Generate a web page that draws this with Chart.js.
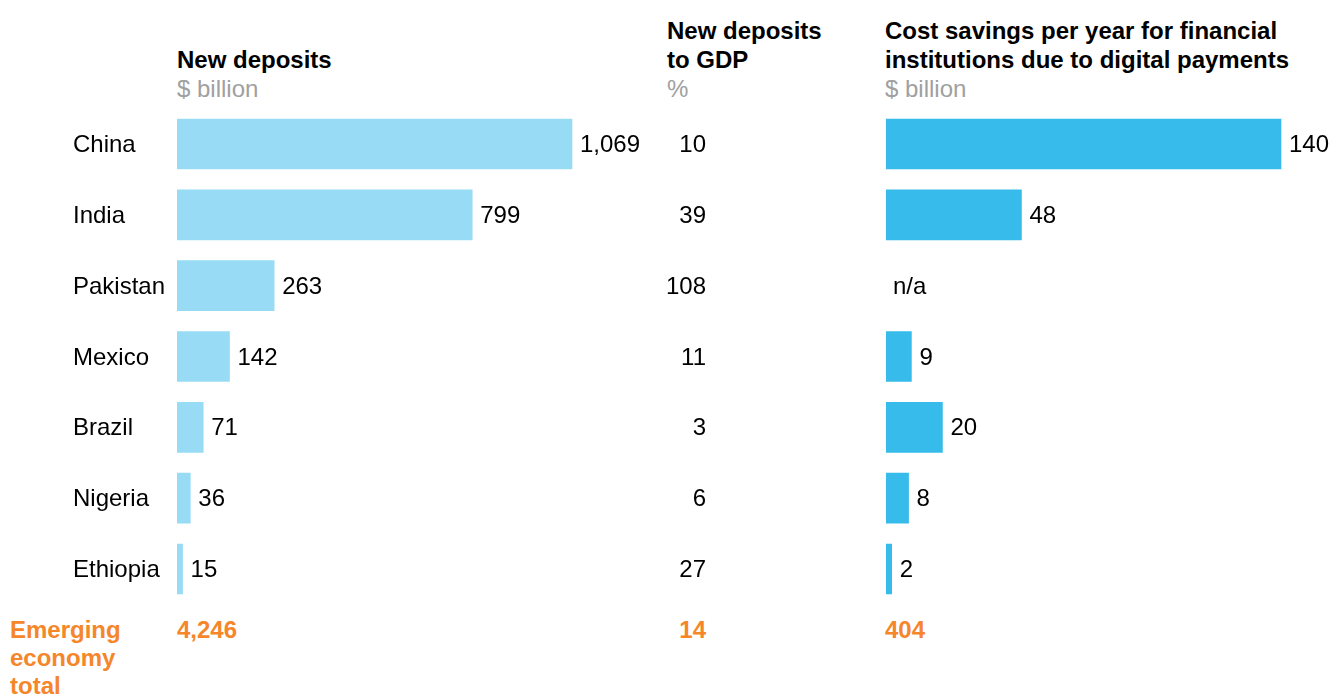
<!DOCTYPE html>
<html>
<head>
<meta charset="utf-8">
<script src="https://cdn.jsdelivr.net/npm/chart.js@4/dist/chart.umd.min.js"></script>
<style>
  html, body { margin: 0; padding: 0; background: #fff; }
  body { width: 1331px; height: 695px; position: relative; overflow: hidden;
         font-family: 'Liberation Sans', Arial, sans-serif; }
  .t { position: absolute; font-size: 24px; line-height: 29px; white-space: nowrap; color: #000; }
  .b { font-weight: bold; }
  .g { color: #a0a0a0; }
  .o { color: #f5862a; font-weight: bold; line-height: 28px; }
  #wrapL { position: absolute; left: 0; top: 0; width: 720px; height: 695px; }
  #wrapR { position: absolute; left: 860px; top: 0; width: 471px; height: 695px; }
</style>
</head>
<body>
<div class="t" style="left:177px; top:44.5px;"><span class="b">New deposits</span><br><span class="g">$ billion</span></div>
<div class="t" style="left:667px; top:15.5px;"><span class="b">New deposits<br>to GDP</span><br><span class="g">%</span></div>
<div class="t" style="left:885px; top:15.5px;"><span class="b">Cost savings per year for financial<br>institutions due to digital payments</span><br><span class="g">$ billion</span></div>

<div class="t o" style="left:10px; top:616px;">Emerging<br>economy<br>total</div>
<div class="t o" style="left:177px; top:616px;" id="totDep"></div>
<div class="t o" style="left:606px; top:616px; width:100px; text-align:right;" id="totGdp"></div>
<div class="t o" style="left:885px; top:616px;" id="totSav"></div>

<div id="wrapL"><canvas id="chartL"></canvas></div>
<div id="wrapR"><canvas id="chartR"></canvas></div>

<script>
const countries = ['China', 'India', 'Pakistan', 'Mexico', 'Brazil', 'Nigeria', 'Ethiopia'];
const newDeposits = [1069, 799, 263, 142, 71, 36, 15];
const depositsToGdp = [10, 39, 108, 11, 3, 6, 27];
const costSavings = [140, 48, null, 9, 20, 8, 2];
const totals = { deposits: '4,246', gdp: '14', savings: '404' };

document.getElementById('totDep').textContent = totals.deposits;
document.getElementById('totGdp').textContent = totals.gdp;
document.getElementById('totSav').textContent = totals.savings;

const lightBlue = '#98dbf5';
const blue = '#36bbea';
const font = "'Liberation Sans', Arial, sans-serif";

// row band: centres from 144 to 569
const rowTop = 108.6;
const rowH = 70.83 * 7;
const textDy = 1.5;

// value labels next to each bar
const valueLabels = {
  id: 'valueLabels',
  afterDatasetsDraw(chart, args, opts) {
    const ctx = chart.ctx;
    const meta = chart.getDatasetMeta(0);
    const data = chart.data.datasets[0].data;
    ctx.save();
    ctx.font = '24px ' + font;
    ctx.fillStyle = '#000';
    ctx.textBaseline = 'middle';
    ctx.textAlign = 'left';
    meta.data.forEach((bar, i) => {
      const y = chart.scales.y.getPixelForValue(i) + textDy;
      if (data[i] === null) {
        ctx.fillText('n/a', chart.chartArea.left + 7, y);
      } else {
        ctx.fillText(data[i].toLocaleString('en-US'), bar.x + 8, y);
      }
    });
    if (opts.rowLabels) {
      countries.forEach((c, i) => {
        ctx.fillText(c, 73, chart.scales.y.getPixelForValue(i) + textDy);
      });
      ctx.textAlign = 'right';
      depositsToGdp.forEach((v, i) => {
        ctx.fillText(String(v), 706, chart.scales.y.getPixelForValue(i) + textDy);
      });
    }
    ctx.restore();
  }
};

function makeChart(id, values, color, padLeft, areaW, fullVal, rowLabels) {
  return new Chart(document.getElementById(id), {
    type: 'bar',
    data: {
      labels: countries,
      datasets: [{ data: values, backgroundColor: color, borderWidth: 0, barThickness: 50 }]
    },
    options: {
      indexAxis: 'y',
      responsive: true,
      maintainAspectRatio: false,
      animation: false,
      layout: { padding: { left: padLeft, right: 0, top: rowTop, bottom: 695 - rowTop - rowH } },
      plugins: { legend: { display: false }, tooltip: { enabled: false }, valueLabels: { rowLabels } },
      scales: {
        x: { display: false, min: 0, max: fullVal * areaW / 395 },
        y: { display: false }
      }
    },
    plugins: [valueLabels]
  });
}

makeChart('chartL', newDeposits, lightBlue, 177, 720 - 177, newDeposits[0], true);
makeChart('chartR', costSavings, blue, 26, 471 - 26, costSavings[0], false);
</script>
</body>
</html>
